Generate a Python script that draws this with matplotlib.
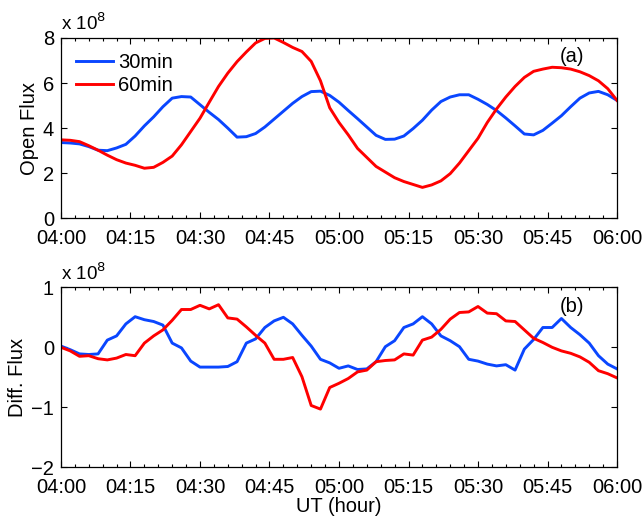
import numpy as np
import matplotlib
matplotlib.use('Agg')
import matplotlib.pyplot as plt
from matplotlib.ticker import MultipleLocator

plt.rcParams['font.family'] = ['Liberation Sans', 'DejaVu Sans']

# время, мин от 04:00 (шаг 2 мин)
t = np.arange(0, 121, 2)

# открытый поток, x 1e8
open_30 = [3.36, 3.34, 3.30, 3.18, 3.02, 3.00, 3.12, 3.28, 3.65, 4.10,
           4.50, 4.95, 5.33, 5.40, 5.38, 5.04, 4.70, 4.38, 4.00, 3.60,
           3.62, 3.76, 4.05, 4.40, 4.75, 5.10, 5.40, 5.62, 5.64, 5.45,
           5.15, 4.78, 4.42, 4.05, 3.68, 3.50, 3.51, 3.65, 3.98, 4.35,
           4.80, 5.18, 5.38, 5.48, 5.48, 5.28, 5.05, 4.78, 4.45, 4.10,
           3.74, 3.70, 3.90, 4.22, 4.55, 4.95, 5.33, 5.56, 5.63, 5.48,
           5.23]
open_60 = [3.48, 3.46, 3.40, 3.22, 3.02, 2.80, 2.60, 2.45, 2.35, 2.22,
           2.26, 2.48, 2.76, 3.26, 3.85, 4.44, 5.15, 5.85, 6.44, 6.95,
           7.38, 7.78, 7.98, 8.00, 7.80, 7.58, 7.40, 6.96, 6.10, 4.90,
           4.25, 3.70, 3.10, 2.70, 2.30, 2.05, 1.80, 1.63, 1.50, 1.37,
           1.48, 1.66, 1.98, 2.45, 3.00, 3.55, 4.25, 4.85, 5.38, 5.85,
           6.25, 6.52, 6.62, 6.70, 6.68, 6.62, 6.50, 6.33, 6.10, 5.75,
           5.23]

# разностный поток, x 1e8
diff_30 = [0.02, -0.04, -0.11, -0.12, -0.11, 0.12, 0.19, 0.39, 0.51, 0.46,
           0.43, 0.37, 0.07, -0.01, -0.23, -0.33, -0.33, -0.33, -0.32, -0.24,
           0.07, 0.14, 0.33, 0.44, 0.50, 0.39, 0.20, 0.02, -0.20, -0.26,
           -0.35, -0.31, -0.37, -0.36, -0.24, 0.01, 0.11, 0.33, 0.39, 0.51,
           0.39, 0.19, 0.11, 0.01, -0.20, -0.23, -0.28, -0.31, -0.29, -0.38,
           -0.03, 0.13, 0.33, 0.33, 0.48, 0.33, 0.21, 0.07, -0.14, -0.28,
           -0.36]
diff_60 = [0.00, -0.06, -0.15, -0.14, -0.19, -0.21, -0.18, -0.12, -0.14, 0.07,
           0.19, 0.29, 0.45, 0.63, 0.63, 0.70, 0.64, 0.71, 0.49, 0.47,
           0.34, 0.20, 0.07, -0.20, -0.20, -0.17, -0.49, -0.97, -1.03, -0.67,
           -0.60, -0.52, -0.41, -0.38, -0.24, -0.22, -0.21, -0.11, -0.13, 0.12,
           0.17, 0.30, 0.47, 0.58, 0.59, 0.68, 0.57, 0.56, 0.44, 0.43,
           0.29, 0.15, 0.08, 0.00, -0.06, -0.10, -0.16, -0.25, -0.39, -0.44,
           -0.51]

xticks = [0, 15, 30, 45, 60, 75, 90, 105, 120]
xticklabels = ['04:00', '04:15', '04:30', '04:45', '05:00', '05:15', '05:30', '05:45', '06:00']

BLUE = '#0a46ff'
RED = '#ff0000'
FS = 14.5

fig = plt.figure(figsize=(6.44, 5.16), dpi=100)
ax1 = fig.add_axes([0.0947, 0.577, 0.8634, 0.3494])
ax2 = fig.add_axes([0.0947, 0.0944, 0.8634, 0.3488])


def style(ax):
    ax.set_xlim(0, 120)
    ax.set_xticks(xticks)
    ax.xaxis.set_minor_locator(MultipleLocator(3))
    ax.tick_params(which='both', direction='in', top=True, right=True, labelsize=FS)
    ax.tick_params(which='major', length=4.3, width=0.8)
    ax.tick_params(which='minor', length=2.5, width=0.8)
    ax.tick_params(axis='x', which='major', pad=7.5)
    ax.tick_params(axis='y', which='major', pad=5)
    for s in ax.spines.values():
        s.set_linewidth(0.9)


# (a) открытый поток
ax1.plot(t, open_30, color=BLUE, lw=2.1, label='30min')
ax1.plot(t, open_60, color=RED, lw=2.1, label='60min')
style(ax1)
ax1.set_xticklabels(xticklabels)
ax1.set_ylim(0, 8)
ax1.set_yticks([0, 2, 4, 6, 8])
ax1.set_ylabel('Open Flux', fontsize=FS, labelpad=3)
ax1.text(0.0, 1.02, r'x 10$^{8}$', transform=ax1.transAxes, fontsize=13.5, va='bottom', ha='left')
ax1.text(0.919, 0.895, '(a)', transform=ax1.transAxes, fontsize=FS, ha='center', va='center')
ax1.legend(loc='upper left', frameon=False, fontsize=FS, handlelength=1.85,
           handletextpad=0.25, labelspacing=0.2, borderaxespad=0.35,
           bbox_to_anchor=(0.0, 1.0))

# (b) разностный поток
ax2.plot(t, diff_30, color=BLUE, lw=2.1)
ax2.plot(t, diff_60, color=RED, lw=2.1)
style(ax2)
ax2.set_xticklabels(xticklabels)
ax2.set_ylim(-2, 1)
ax2.set_yticks([-2, -1, 0, 1])
ax2.set_yticklabels(['\u22122', '\u22121', '0', '1'])
ax2.set_ylabel('Diff. Flux', fontsize=FS, labelpad=3)
ax2.set_xlabel('UT (hour)', fontsize=FS, labelpad=0)
ax2.text(0.0, 1.02, r'x 10$^{8}$', transform=ax2.transAxes, fontsize=13.5, va='bottom', ha='left')
ax2.text(0.919, 0.892, '(b)', transform=ax2.transAxes, fontsize=FS, ha='center', va='center')

fig.savefig('out.png', dpi=100)
